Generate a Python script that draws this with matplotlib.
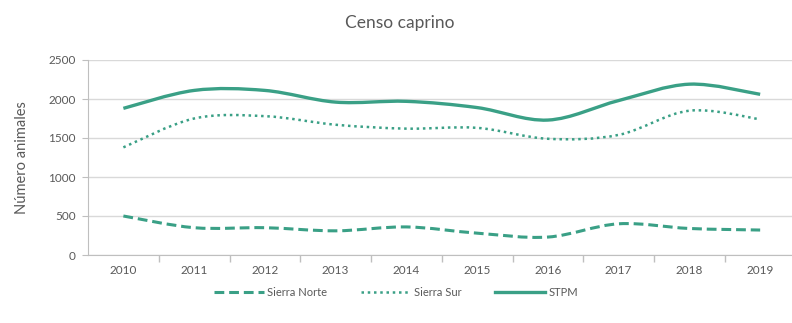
import numpy as np
import matplotlib.pyplot as plt
from matplotlib.path import Path
from matplotlib.patches import PathPatch
from matplotlib.lines import Line2D

plt.rcParams['font.family'] = ['Lato', 'DejaVu Sans']

years = ['2010', '2011', '2012', '2013', '2014', '2015', '2016', '2017', '2018', '2019']
sierra_norte = [500, 350, 350, 310, 360, 280, 230, 400, 340, 320]
sierra_sur = [1380, 1750, 1780, 1670, 1620, 1630, 1490, 1540, 1850, 1740]
stpm = [1880, 2110, 2110, 1960, 1970, 1890, 1730, 1980, 2190, 2060]

color = '#3aa086'
gray = '#595959'


def smooth_path(xs, ys):
    # Excel-like smoothed line: cubic Bezier segments through the points
    p = np.column_stack([xs, ys]).astype(float)
    verts = [p[0]]
    codes = [Path.MOVETO]
    n = len(p)
    for i in range(n - 1):
        p0 = p[i - 1] if i > 0 else p[i]
        p3 = p[i + 2] if i + 2 < n else p[i + 1]
        c1 = p[i] + (p[i + 1] - p0) / 6.0
        c2 = p[i + 1] - (p3 - p[i]) / 6.0
        verts += [c1, c2, p[i + 1]]
        codes += [Path.CURVE4] * 3
    return Path(verts, codes)


fig = plt.figure(figsize=(7.92, 3.23), dpi=100)
ax = fig.add_axes([88 / 792, 68 / 323, (792 - 88) / 792, 195 / 323])

x = np.arange(1, len(years) + 1)
series = [
    (sierra_norte, 'Sierra Norte', (0, (3.2, 1.6)), 2.2),
    (sierra_sur, 'Sierra Sur', (0, (1, 1.5)), 1.8),
    (stpm, 'STPM', '-', 2.4),
]
handles = []
for vals, name, ls, lw in series:
    patch = PathPatch(smooth_path(x, vals), facecolor='none', edgecolor=color,
                      lw=lw, linestyle=ls, capstyle='butt', zorder=3)
    ax.add_patch(patch)
    handles.append(Line2D([], [], color=color, lw=lw, linestyle=ls, label=name))

ax.set_xlim(0.5, 10.45)
ax.set_ylim(0, 2500)
ax.set_yticks(range(0, 2501, 500))
ax.yaxis.grid(True, color='#d9d9d9', lw=1)
ax.set_axisbelow(True)

ax.set_xticks(x)
ax.set_xticklabels(years)
ax.set_xticks(np.arange(1.5, 10.5, 1), minor=True)
ax.tick_params(axis='x', which='major', length=0, pad=7, labelsize=8.5, labelcolor=gray)
ax.tick_params(axis='x', which='minor', length=5, color='#bfbfbf', width=1)
ax.tick_params(axis='y', length=4, color='#bfbfbf', labelsize=8.5, labelcolor=gray, pad=5)

for s in ['top', 'right']:
    ax.spines[s].set_visible(False)
for s in ['left', 'bottom']:
    ax.spines[s].set_color('#bfbfbf')

ax.set_ylabel('Número animales', fontsize=10.5, color=gray, labelpad=14)
fig.text(0.505, 0.93, 'Censo caprino', ha='center', va='center', fontsize=12.5, color=gray)

fig.legend(handles=handles, loc='center', bbox_to_anchor=(0.5, 0.094), ncol=3,
           frameon=False, fontsize=8, labelcolor=gray, handlelength=4.5,
           columnspacing=3, handletextpad=0.3)

fig.savefig('out.png', dpi=100)
